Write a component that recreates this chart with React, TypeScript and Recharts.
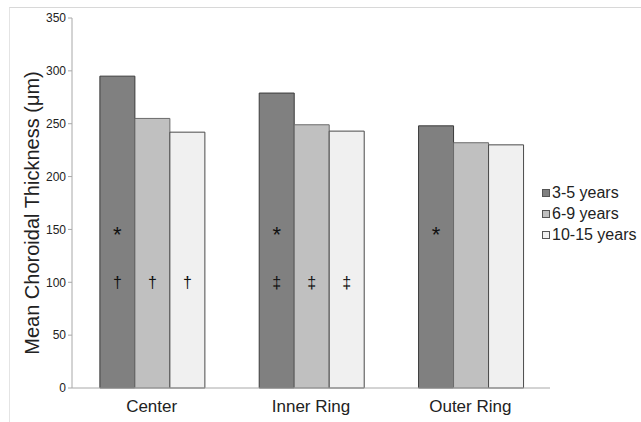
import { BarChart, Bar, XAxis, YAxis, LabelList } from "recharts";

const regions = ["Center", "Inner Ring", "Outer Ring"];
const age3to5 = [295, 279, 248];
const age6to9 = [255, 249, 232];
const age10to15 = [242, 243, 230];
const yTicks = [0, 50, 100, 150, 200, 250, 300, 350];

// significance marks per bar (drawn at 150 and 100 µm)
const starMarks = [
  ["*", "*", "*"],
  ["", "", ""],
  ["", "", ""],
];
const lowMarks = [
  ["†", "‡", ""],
  ["†", "‡", ""],
  ["†", "‡", ""],
];

const series = [
  { key: "a", name: "3-5 years", values: age3to5, fill: "#808080", stroke: "#3a3a3a" },
  { key: "b", name: "6-9 years", values: age6to9, fill: "#c0c0c0", stroke: "#6a6a6a" },
  { key: "c", name: "10-15 years", values: age10to15, fill: "#f0f0f0", stroke: "#4a4a4a" },
];

const data = regions.map((region, i) => ({
  region,
  a: age3to5[i],
  b: age6to9[i],
  c: age10to15[i],
}));

const font = "Liberation Sans, Arial, sans-serif";

const markAt = (s: number, level: number, marks: string[][], fontSize: number, dy: number) =>
  (props: any) => {
    const { x, y, width, height, index, value } = props;
    const txt = marks[s][index];
    if (!txt) return null;
    const yy = y + height - (height * level) / value;
    return (
      <text x={x + width / 2} y={yy + dy} textAnchor="middle" fontSize={fontSize} fill="#111" fontFamily={font}>
        {txt}
      </text>
    );
  };

const yLabel = (props: any) => {
  const { viewBox } = props;
  const cx = 39;
  const cy = viewBox.y + viewBox.height / 2 + 10;
  return (
    <text
      x={cx}
      y={cy}
      transform={`rotate(-90 ${cx} ${cy})`}
      textAnchor="middle"
      fontSize={20}
      fill="#222"
      fontFamily={font}
    >
      Mean Choroidal Thickness (μm)
    </text>
  );
};

export default function App() {
  return (
    <div style={{ position: "absolute", left: 0, top: 0, width: 641, height: 422, background: "#fff", overflow: "hidden" }}>
      <div
        style={{
          position: "absolute",
          left: 9,
          top: 7,
          width: 640,
          height: 420,
          borderTop: "1px solid #d8d8d8",
          borderLeft: "1px solid #e4e4e4",
        }}
      />
      <BarChart
        width={641}
        height={422}
        data={data}
        margin={{ top: 18, right: 91, left: 0, bottom: 4 }}
        barCategoryGap="17.5%"
        barGap={0}
        style={{ position: "absolute", left: 0, top: 0 }}
      >
        <XAxis
          dataKey="region"
          stroke="#a8a8a8"
          height={30}
          tick={{ fill: "#222", fontSize: 17, fontFamily: font, dy: 4 }}
          tickLine={false}
        />
        <YAxis
          domain={[0, 350]}
          ticks={yTicks}
          width={72}
          stroke="#a8a8a8"
          tickSize={4}
          tick={{ fill: "#222", fontSize: 12, fontFamily: font }}
          label={yLabel}
        />
        {series.map((s, si) => (
          <Bar
            key={s.key}
            dataKey={s.key}
            name={s.name}
            fill={s.fill}
            stroke={s.stroke}
            strokeWidth={1}
            isAnimationActive={false}
          >
            <LabelList dataKey={s.key} content={markAt(si, 150, starMarks, 22, 13)} />
            <LabelList dataKey={s.key} content={markAt(si, 100, lowMarks, 16, 6)} />
          </Bar>
        ))}
      </BarChart>
      <div style={{ position: "absolute", left: 542, top: 182, fontFamily: font, fontSize: 16, color: "#222" }}>
        {series.map((s) => (
          <div key={s.key} style={{ display: "flex", alignItems: "center", height: 21 }}>
            <span
              style={{
                display: "inline-block",
                width: 6,
                height: 6,
                background: s.fill,
                border: "1px solid #555",
                marginRight: 2,
              }}
            />
            {s.name}
          </div>
        ))}
      </div>
    </div>
  );
}
